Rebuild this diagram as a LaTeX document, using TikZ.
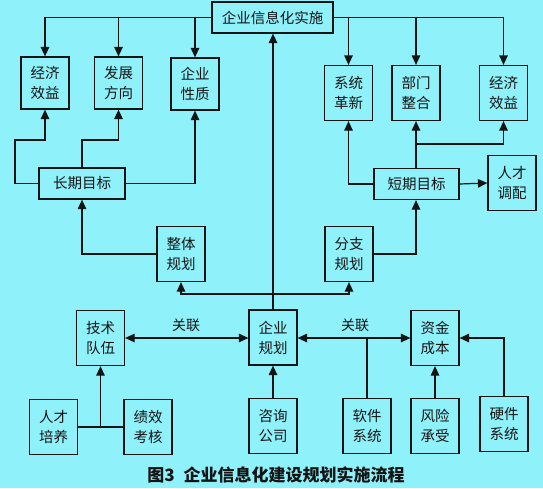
\documentclass[tikz,border=0pt]{standalone}
\usepackage{fontspec}
\setmainfont{Noto Sans CJK SC}
\usetikzlibrary{arrows.meta}
\definecolor{bgc}{RGB}{143,241,250}
\definecolor{ink}{RGB}{20,20,20}
\tikzset{
  bx/.style={draw=ink, line width=1.2pt, inner sep=0pt, align=center,
    font=\fontsize{14.5}{20}\selectfont, text=ink},
  two/.style={bx, minimum width=48pt, minimum height=55pt},
  wide/.style={bx, minimum height=31pt},
  ln/.style={draw=ink, line width=1.2pt},
  arr/.style={ln, -{Triangle[length=9.5pt,width=8.5pt]}},
  darr/.style={ln, {Triangle[length=9.5pt,width=8.5pt]}-{Triangle[length=9.5pt,width=8.5pt]}},
  lab/.style={font=\fontsize{14}{16}\selectfont, text=ink, inner sep=0pt}
}
\begin{document}
\begin{tikzpicture}[x=1pt,y=-1pt]
\fill[bgc] (0,0) rectangle (543,488);
\useasboundingbox (0,0) rectangle (543,488);
% top
\node[wide, minimum width=121pt] (top) at (272.5,17.5) {企业信息化实施};
% left targets
\node[two, minimum height=52pt] (jj1) at (45,83) {经济\\效益};
\node[two, minimum height=52pt] (fz) at (118.5,83) {发展\\方向};
\node[two, minimum height=52pt] (xz) at (195,84) {企业\\性质};
% right targets
\node[two] (xt) at (348.5,93) {系统\\革新};
\node[two] (bm) at (416,93) {部门\\整合};
\node[two] (jj2) at (503.5,93) {经济\\效益};
% goals
\node[wide, minimum width=86pt] (cq) at (82,183.5) {长期目标};
\node[wide, minimum width=85pt] (dq) at (416.5,184) {短期目标};
\node[two] (rctp) at (512,183) {人才\\调配};
% plans
\node[two] (zt) at (181,254) {整体\\规划};
\node[two] (fzgh) at (349,254) {分支\\规划};
% middle row
\node[two] (js) at (100.5,338) {技术\\队伍};
\node[two] (qy) at (273,337.5) {企业\\规划};
\node[two] (zj) at (435,338) {资金\\成本};
% bottom row
\node[two] (rcpy) at (53.5,427) {人才\\培养};
\node[two] (jx) at (148,427) {绩效\\考核};
\node[two] (zx) at (273,426) {咨询\\公司};
\node[two] (rj) at (367,426) {软件\\系统};
\node[two] (fx) at (435,426) {风险\\承受};
\node[two] (yj) at (504,424) {硬件\\系统};
% caption
\node[font=\fontsize{17}{20}\selectfont\bfseries, text=ink, inner sep=0pt] (cap) at (276,475) {图3\hspace{9pt}企业信息化建设规划实施流程};

% top box to targets
\draw[arr] (top.west) -| (jj1.north);
\draw[arr] (fz.north |- top.west) -- (fz.north);
\draw[arr] (xz.north |- top.west) -- (xz.north);
\draw[arr] (top.east) -| (jj2.north);
\draw[arr] (xt.north |- top.east) -- (xt.north);
\draw[arr] (bm.north |- top.east) -- (bm.north);
% enterprise plan up to top
\draw[arr] (qy.north) -- (top.south -| qy.north);
% long-term goal
\coordinate (c1) at (15,140);
\coordinate (c2) at (82,140);
\draw[arr] (cq.west) -| (c1) -| (jj1.south);
\draw[arr] (cq.north) -- (c2) -| (fz.south);
\draw[arr] (cq.east) -| (xz.south);
% short-term goal
\coordinate (c3) at (416,144);
\draw[arr] (dq.west) -| (xt.south);
\draw[arr] (dq.north -| bm.south) -- (bm.south);
\draw[arr] (c3) -| (jj2.south);
\draw[arr] (dq.east) -- (rctp.west);
% plans to goals
\draw[arr] (zt.west) -| (cq.south);
\draw[arr] (fzgh.east) -| (dq.south -| bm.south);
% split from qy vertical
\coordinate (sp) at (273,294);
\draw[arr] (sp) -| (zt.south);
\draw[arr] (sp) -| (fzgh.south);
% associations
\draw[darr] (js.east) -- (js.east -| qy.west);
\draw[darr] (zj.west -| qy.east) -- (zj.west);
\node[lab] (l1) at (186,325) {关联};
\node[lab] (l2) at (355,325) {关联};
% bottom connections
\coordinate (c4) at (100.5,427);
\draw[ln] (rcpy.east) -- (jx.west);
\draw[arr] (c4) -- (js.south);
\draw[arr] (zx.north) -- (qy.south);
\draw[ln] (rj.north) -- (rj.north |- zj.west);
\draw[arr] (fx.north) -- (zj.south);
\draw[arr] (yj.north) |- (zj.east);
\end{tikzpicture}
\end{document}
